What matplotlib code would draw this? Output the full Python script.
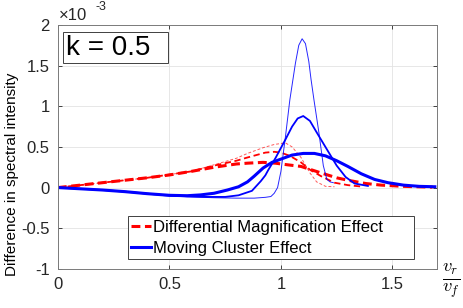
import numpy as np
import matplotlib
matplotlib.use('Agg')
import matplotlib.pyplot as plt
from matplotlib.patches import Rectangle

plt.rcParams['font.family'] = ['Liberation Sans', 'DejaVu Sans']

# values in units of 1e-3
# moving cluster effect (blue), three widths
mc_thin_x = [0, 0.1, 0.2, 0.3, 0.4, 0.5, 0.6, 0.7, 0.8, 0.88, 0.93, 0.955, 0.97, 0.985, 1.0,
             1.02, 1.04, 1.065, 1.08, 1.095, 1.11, 1.125, 1.135, 1.148, 1.17, 1.19, 1.206, 1.22, 1.235]
mc_thin_y = [0, -0.015, -0.03, -0.05, -0.075, -0.1, -0.115, -0.125, -0.13, -0.13, -0.12, -0.11, -0.07,
             0.0, 0.2, 0.62, 1.08, 1.53, 1.75, 1.83, 1.77, 1.55, 1.33, 1.08, 0.68, 0.27, 0.10, 0.07, 0.06]

mc_mid_x = [0, 0.1, 0.2, 0.3, 0.4, 0.5, 0.6, 0.67, 0.75, 0.81, 0.87, 0.91, 0.93, 0.944, 0.975,
            1.02, 1.05, 1.075, 1.10, 1.13, 1.16, 1.206, 1.25, 1.29, 1.33, 1.39]
mc_mid_y = [0, -0.015, -0.03, -0.05, -0.075, -0.1, -0.11, -0.115, -0.115, -0.095, -0.04, 0.08, 0.15,
            0.22, 0.36, 0.59, 0.75, 0.85, 0.88, 0.82, 0.68, 0.47, 0.27, 0.13, 0.05, 0.02]

mc_wide_x = [0, 0.1, 0.2, 0.3, 0.4, 0.5, 0.58, 0.64, 0.7, 0.76, 0.81, 0.85, 0.88, 0.92, 0.96, 1.0,
             1.05, 1.1, 1.15, 1.2, 1.25, 1.3, 1.36, 1.42, 1.48, 1.55, 1.62, 1.69]
mc_wide_y = [0, -0.015, -0.03, -0.05, -0.075, -0.095, -0.1, -0.09, -0.07, -0.03, 0.01, 0.07, 0.14,
             0.24, 0.31, 0.35, 0.40, 0.42, 0.42, 0.39, 0.33, 0.26, 0.17, 0.10, 0.06, 0.03, 0.015, 0.01]

# differential magnification effect (red), three widths
dm_thin_x = [0, 0.1, 0.2, 0.3, 0.4, 0.5, 0.6, 0.7, 0.8, 0.85, 0.92, 0.97, 1.02, 1.05, 1.09,
             1.13, 1.16, 1.2, 1.24]
dm_thin_y = [0, 0.03, 0.06, 0.09, 0.12, 0.16, 0.2, 0.28, 0.36, 0.42, 0.49, 0.53, 0.55, 0.5, 0.37,
             0.18, 0.07, 0.015, 0.01]

dm_mid_x = [0, 0.1, 0.2, 0.3, 0.4, 0.5, 0.6, 0.7, 0.8, 0.85, 0.93, 0.97, 1.0, 1.04, 1.09, 1.13,
            1.18, 1.24, 1.3, 1.37]
dm_mid_y = [0, 0.03, 0.06, 0.09, 0.12, 0.16, 0.2, 0.27, 0.33, 0.37, 0.43, 0.44, 0.43, 0.39, 0.31,
            0.22, 0.14, 0.06, 0.03, 0.01]

dm_wide_x = [0, 0.1, 0.2, 0.3, 0.4, 0.5, 0.6, 0.7, 0.8, 0.85, 0.92, 0.975, 1.03, 1.09, 1.18,
             1.25, 1.3, 1.38, 1.45, 1.55, 1.68]
dm_wide_y = [0, 0.03, 0.06, 0.09, 0.12, 0.155, 0.2, 0.25, 0.29, 0.30, 0.31, 0.30, 0.28, 0.26, 0.18,
             0.12, 0.09, 0.05, 0.03, 0.015, 0.005]

xticks = [0, 0.5, 1, 1.5]
xtick_labels = ['0', '0.5', '1', '1.5']
yticks = [-1, -0.5, 0, 0.5, 1, 1.5, 2]
ytick_labels = ['-1', '-0.5', '0', '0.5', '1', '1.5', '2']

fig = plt.figure(figsize=(4.63, 3.08), dpi=100)
ax = fig.add_axes([0.125, 0.127, 0.819, 0.792])

blue = '#0000ff'
red = '#ff0000'

ax.plot(dm_thin_x, dm_thin_y, color=red, lw=0.7, ls=(0, (3, 2)), alpha=0.65)
ax.plot(dm_mid_x, dm_mid_y, color=red, lw=1.3, ls=(0, (3.5, 2)))
ax.plot(dm_wide_x, dm_wide_y, color=red, lw=2.2, ls=(0, (2.9, 1.5)),
        label='Differential Magnification Effect')
ax.plot(mc_thin_x, mc_thin_y, color=blue, lw=0.7, alpha=0.85)
ax.plot(mc_mid_x, mc_mid_y, color=blue, lw=1.3)
ax.plot(mc_wide_x, mc_wide_y, color=blue, lw=2.2, label='Moving Cluster Effect')

ax.set_xlim(0, 1.7)
ax.set_ylim(-1, 2)
ax.set_xticks(xticks)
ax.set_xticklabels(xtick_labels)
ax.set_yticks(yticks)
ax.set_yticklabels(ytick_labels)
ax.grid(True, color='#e3e3e3', lw=0.6)
ax.set_axisbelow(True)
ax.tick_params(direction='in', length=3, width=0.6, top=True, right=True,
               labelsize=12, colors='#262626', pad=6)
for sp in ax.spines.values():
    sp.set_color('#7a7a7a')
    sp.set_linewidth(0.7)

leg = ax.legend(loc='lower left', bbox_to_anchor=(0.185, 0.041, 0.754, 0.168), mode='expand',
                borderaxespad=0, fontsize=12, handlelength=1.2, handletextpad=0.1,
                labelspacing=0.35, borderpad=0.2, fancybox=False, framealpha=1,
                edgecolor='#404040')
leg.get_frame().set_linewidth(0.7)

# k label box
ax.add_patch(Rectangle((0.013, 0.844), 0.277, 0.127, transform=ax.transAxes,
                       facecolor='white', edgecolor='#404040', lw=0.7, zorder=5))
ax.text(0.022, 0.906, 'k = 0.5', transform=ax.transAxes, fontsize=20,
        va='center', ha='left', zorder=6)

# exponent label
fig.text(0.128, 0.935, '\u00d710', fontsize=12, color='#262626')
fig.text(0.207, 0.968, '-3', fontsize=9, color='#262626')

fig.text(0.026, 0.434, 'Difference in spectral intensity', rotation=90,
         fontsize=11, va='center', ha='center')
fig.text(0.974, 0.088, r'$\frac{v_r}{v_f}$', fontsize=19, ha='center', va='center',
         math_fontfamily='cm')

fig.savefig('out.png', dpi=100)
